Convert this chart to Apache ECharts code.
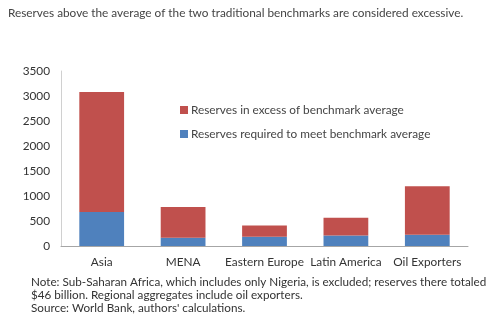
<!DOCTYPE html>
<html><head><meta charset="utf-8">
<script src="https://cdn.jsdelivr.net/npm/echarts@6/dist/echarts.min.js"></script>
<style>html,body{margin:0;padding:0;background:#fff}#c{width:500px;height:333px}</style>
</head><body><div id="c"></div>
<script>
const categories = ['Asia', 'MENA', 'Eastern Europe', 'Latin America', 'Oil Exporters'];
const requiredReserves = [680, 165, 185, 212, 225];
const excessReserves = [2398, 617, 227, 351, 968];
const yTicks = [0, 500, 1000, 1500, 2000, 2500, 3000, 3500];
const seriesNames = ['Reserves required to meet benchmark average', 'Reserves in excess of benchmark average'];
const titleText = 'Reserves above the average of the two traditional benchmarks are considered excessive.';
const noteLines = [
  'Note: Sub-Saharan Africa, which includes only Nigeria, is excluded; reserves there totaled',
  '$46 billion. Regional aggregates include oil exporters.',
  'Source: World Bank, authors\' calculations.'
];
const font = 'Lato, "Open Sans", sans-serif';
const chart = echarts.init(document.getElementById('c'));
chart.setOption({
  animation: false,
  textStyle: { fontFamily: font },
  grid: { left: 61, right: 32, top: 71, bottom: 87, containLabel: false },
  legend: {
    orient: 'vertical', left: 175, top: 99, itemGap: 12,
    itemWidth: 8, itemHeight: 8, icon: 'rect',
    data: [seriesNames[1], seriesNames[0]],
    textStyle: { fontFamily: font, fontSize: 11.8, color: '#444', padding: [0, 0, 0, -2] }
  },
  xAxis: {
    type: 'category', data: categories,
    axisLine: { lineStyle: { color: '#a6a6a6' } },
    axisTick: { show: false },
    axisLabel: { fontFamily: font, fontSize: 11.8, color: '#333', margin: 10, interval: 0 }
  },
  yAxis: {
    type: 'value', min: yTicks[0], max: yTicks[yTicks.length - 1], interval: 500,
    axisLine: { show: true, lineStyle: { color: '#d0d0d0' } },
    axisTick: { show: false },
    splitLine: { show: false },
    axisLabel: { fontFamily: font, fontSize: 11.8, color: '#333', margin: 11, formatter: v => String(v) }
  },
  series: [
    { name: seriesNames[0], type: 'bar', stack: 's', data: requiredReserves, barWidth: '55%', itemStyle: { color: '#4f81bd' } },
    { name: seriesNames[1], type: 'bar', stack: 's', data: excessReserves, barWidth: '55%', itemStyle: { color: '#c0504d' } }
  ],
  graphic: [
    { type: 'text', left: 8, top: 7, style: { text: titleText, fontFamily: font, fontSize: 11.8, fill: '#444' } },
    { type: 'text', left: 31, top: 276, style: { text: noteLines.join('\n'), fontFamily: font, fontSize: 11.7, lineHeight: 13, fill: '#333' } }
  ]
});
</script></body></html>
